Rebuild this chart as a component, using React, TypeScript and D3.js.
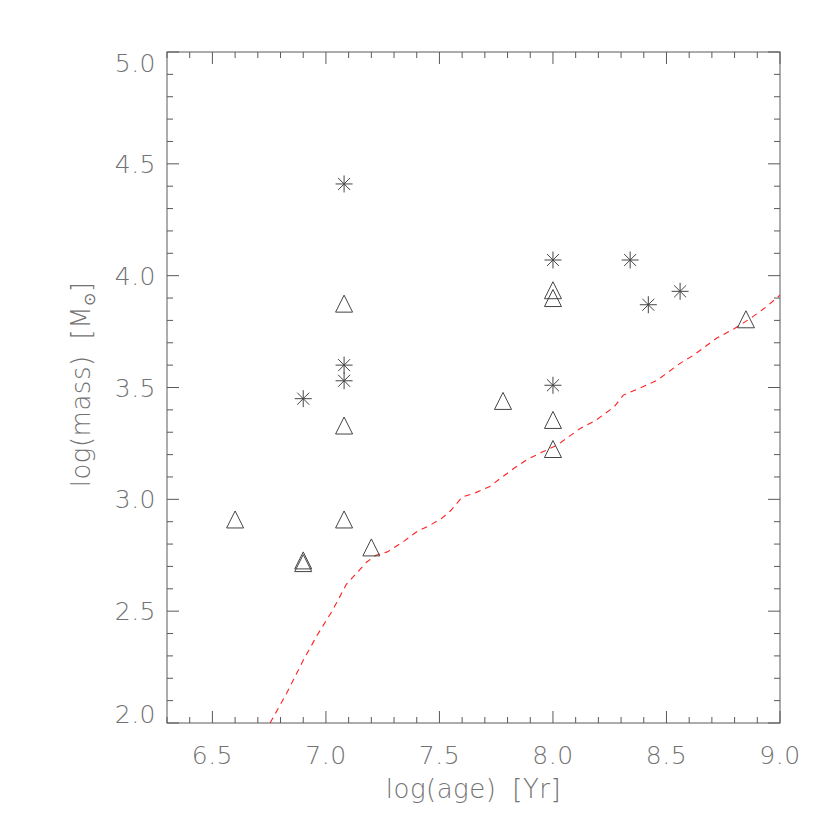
import React from 'react';
import * as d3 from 'd3';

// observed clusters (asterisks)
const starAge = [7.08, 7.08, 7.08, 6.9, 8.0, 8.34, 8.42, 8.56, 8.0];
const starMass = [4.41, 3.6, 3.53, 3.45, 4.07, 4.07, 3.87, 3.93, 3.51];

// observed clusters (triangles)
const triAge = [6.6, 6.9, 6.9, 7.08, 7.08, 7.08, 7.2, 7.78, 8.0, 8.0, 8.0, 8.0, 8.85];
const triMass = [2.91, 2.727, 2.715, 3.875, 3.33, 2.91, 2.785, 3.44, 3.935, 3.9, 3.355, 3.225, 3.805];

// red dashed limit curve
const curveAge = [6.754, 6.827, 6.9, 6.96, 7.03, 7.09, 7.18, 7.22, 7.27, 7.34, 7.4, 7.46, 7.51, 7.55,
  7.6, 7.66, 7.72, 7.77, 7.83, 7.89, 7.95, 8.02, 8.06, 8.12, 8.19, 8.27, 8.31, 8.38, 8.46, 8.5,
  8.56, 8.62, 8.68, 8.72, 8.8, 8.87, 8.94, 9.0];
const curveMass = [2.0, 2.133, 2.28, 2.39, 2.505, 2.62, 2.72, 2.75, 2.765, 2.81, 2.855, 2.885, 2.915, 2.95,
  3.01, 3.03, 3.056, 3.095, 3.14, 3.18, 3.21, 3.243, 3.273, 3.317, 3.354, 3.414, 3.466, 3.496, 3.533, 3.563,
  3.608, 3.645, 3.69, 3.72, 3.764, 3.809, 3.861, 3.913];

const xDomain: [number, number] = [6.3, 9.0];
const yDomain: [number, number] = [2.0, 5.0];

const W = 830;
const H = 830;
const margin = { top: 52, right: 50, bottom: 107, left: 167 };
const axisColor = '#5a5a5a';
const textColor = '#727272';
const font = "'DejaVu Sans ExtraLight', 'DejaVu Sans', sans-serif";

export default function App() {
  const iw = W - margin.left - margin.right;
  const ih = H - margin.top - margin.bottom;

  const x = d3.scaleLinear().domain(xDomain).range([0, iw]);
  const y = d3.scaleLinear().domain(yDomain).range([ih, 0]);

  const isMajor = (v: number) => Math.abs(v * 2 - Math.round(v * 2)) < 1e-6;
  const xTicks = x.ticks(27);
  const yTicks = y.ticks(30);

  const line = d3.line<number>()
    .x((_, i) => x(curveAge[i]))
    .y((_, i) => y(curveMass[i]));

  const r = 8.5;
  // y labels are kept inside the frame at both ends
  const yLabelCenter = (t: number) => Math.min(ih - 9, Math.max(11, y(t)));

  return (
    <svg width={W} height={H} style={{ position: 'absolute', left: 0, top: 0, background: '#fff' }}>
      <defs>
        <clipPath id="plot-clip">
          <rect x={0} y={0} width={iw} height={ih} />
        </clipPath>
      </defs>
      <g transform={`translate(${margin.left},${margin.top})`}>
        {/* frame */}
        <rect x={0} y={0} width={iw} height={ih} fill="none" stroke={axisColor} strokeWidth={1} />

        {/* x ticks, bottom and top */}
        {xTicks.map(t => {
          const len = isMajor(t) ? 12 : 6;
          return (
            <g key={'x' + t}>
              <line x1={x(t)} x2={x(t)} y1={ih} y2={ih - len} stroke={axisColor} />
              <line x1={x(t)} x2={x(t)} y1={0} y2={len} stroke={axisColor} />
            </g>
          );
        })}
        {/* y ticks, left and right */}
        {yTicks.map(t => {
          const len = isMajor(t) ? 12 : 6;
          return (
            <g key={'y' + t}>
              <line x1={0} x2={len} y1={y(t)} y2={y(t)} stroke={axisColor} />
              <line x1={iw} x2={iw - len} y1={y(t)} y2={y(t)} stroke={axisColor} />
            </g>
          );
        })}

        {/* tick labels */}
        {xTicks.filter(t => isMajor(t)).map(t => (
          <text key={'xl' + t} x={x(t)} y={ih + 41} textAnchor="middle"
            fill={textColor} fontSize={25} fontFamily={font} fontWeight={200} letterSpacing={0.5}>
            {d3.format('.1f')(t)}
          </text>
        ))}
        {yTicks.filter(t => isMajor(t)).map(t => (
          <text key={'yl' + t} x={-11} y={yLabelCenter(t) + 9} textAnchor="end"
            fill={textColor} fontSize={25} fontFamily={font} fontWeight={200} letterSpacing={0.5}>
            {d3.format('.1f')(t)}
          </text>
        ))}

        {/* axis titles */}
        <text x={iw / 2} y={ih + 75} textAnchor="middle"
          fill={textColor} fontSize={26} fontFamily={font} fontWeight={200} letterSpacing={0.5}>
          log(age)<tspan dx={16}>[Yr]</tspan>
        </text>
        <text transform={`translate(${-77},${ih / 2 - 3}) rotate(-90)`} textAnchor="middle"
          fill={textColor} fontSize={26} fontFamily={font} fontWeight={200} letterSpacing={0.5}>
          log(mass)<tspan dx={16}>[M</tspan><tspan fontSize={16} dy={5}>⊙</tspan><tspan dy={-5}>]</tspan>
        </text>

        {/* dashed curve */}
        <path d={line(curveAge) || ''} fill="none" stroke="#ff2020" strokeWidth={1.1}
          strokeDasharray="6,5" clipPath="url(#plot-clip)" />

        {/* triangles */}
        {triAge.map((a, i) => {
          const cx = x(a);
          const cy = y(triMass[i]);
          return (
            <path key={'t' + i}
              d={`M${cx - r},${cy + r}L${cx},${cy - r}L${cx + r},${cy + r}Z`}
              fill="none" stroke="#444" strokeWidth={1} />
          );
        })}

        {/* asterisks */}
        {starAge.map((a, i) => {
          const cx = x(a);
          const cy = y(starMass[i]);
          const d = r * Math.SQRT1_2;
          return (
            <path key={'s' + i}
              d={`M${cx - r},${cy}L${cx + r},${cy}M${cx},${cy - r}L${cx},${cy + r}` +
                `M${cx - d},${cy - d}L${cx + d},${cy + d}M${cx - d},${cy + d}L${cx + d},${cy - d}`}
              fill="none" stroke="#444" strokeWidth={1} />
          );
        })}
      </g>
    </svg>
  );
}
